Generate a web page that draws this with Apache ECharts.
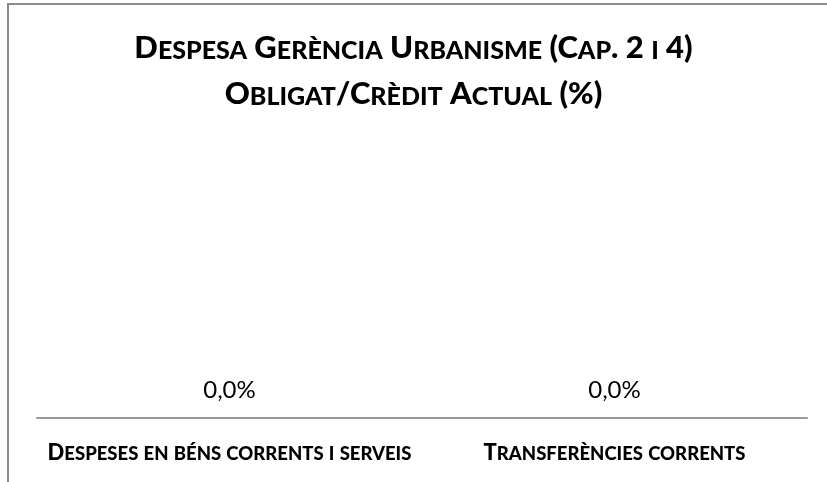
<!DOCTYPE html>
<html>
<head>
<meta charset="utf-8">
<script src="https://cdn.jsdelivr.net/npm/echarts@6/dist/echarts.min.js"></script>
<style>
  html, body { margin: 0; padding: 0; background: #fff; }
  #chart { width: 827px; height: 482px; }
</style>
</head>
<body>
<div id="chart"></div>
<script>
// Chart data
const titleLines = ['Despesa Gerència Urbanisme (Cap. 2 i 4)', 'Obligat/Crèdit Actual (%)'];
const categories = ['Despeses en béns corrents i serveis', 'Transferències corrents'];
const values = [0.0, 0.0];

const FONT = 'Lato';

// Turn a string into rich-text tokens that imitate small capitals:
// lowercase letters are drawn as reduced uppercase glyphs.
function smallCaps(str, big, small) {
  let out = '';
  let run = '';
  let runIsSmall = null;
  const flush = () => {
    if (run) out += '{' + (runIsSmall ? small : big) + '|' + run + '}';
    run = '';
  };
  for (const ch of str) {
    const isSmall = ch !== ch.toUpperCase();
    if (runIsSmall !== null && isSmall !== runIsSmall) flush();
    runIsSmall = isSmall;
    run += isSmall ? ch.toUpperCase() : ch;
  }
  flush();
  return out;
}

const chart = echarts.init(document.getElementById('chart'), null, { renderer: 'canvas' });

chart.setOption({
  backgroundColor: '#ffffff',
  animation: false,
  graphic: [{
    type: 'rect',
    shape: { x: 8, y: 4, width: 900, height: 600 },
    style: { fill: 'none', stroke: '#8c8c8c', lineWidth: 2 },
    silent: true
  }],
  title: {
    left: 'center',
    top: 12,
    text: titleLines.map(l => smallCaps(l, 'b', 's')).join('\n'),
    textStyle: {
      rich: {
        b: { fontFamily: FONT, fontWeight: 900, fontSize: 31, color: '#000', lineHeight: 46, verticalAlign: 'bottom' },
        s: { fontFamily: FONT, fontWeight: 900, fontSize: 25, color: '#000', lineHeight: 46, verticalAlign: 'bottom' }
      }
    }
  },
  grid: { left: 37, right: 20, top: 140, bottom: 64 },
  xAxis: {
    type: 'category',
    data: categories,
    axisLine: { lineStyle: { color: '#999999', width: 2 } },
    axisTick: { show: false },
    axisLabel: {
      margin: 22,
      interval: 0,
      formatter: v => smallCaps(v, 'b', 's'),
      rich: {
        b: { fontFamily: FONT, fontWeight: 900, fontSize: 22, color: '#000', lineHeight: 24, verticalAlign: 'bottom' },
        s: { fontFamily: FONT, fontWeight: 900, fontSize: 18.5, color: '#000', lineHeight: 24, verticalAlign: 'bottom' }
      }
    }
  },
  yAxis: {
    type: 'value',
    min: 0,
    max: 100,
    show: false
  },
  series: [{
    type: 'bar',
    data: values,
    barWidth: '50%',
    itemStyle: { color: '#4f81bd' },
    label: {
      show: true,
      position: 'top',
      distance: 16,
      fontFamily: FONT,
      fontSize: 24,
      color: '#000',
      formatter: p => p.value.toFixed(1).replace('.', ',') + '%'
    }
  }]
});
</script>
</body>
</html>
